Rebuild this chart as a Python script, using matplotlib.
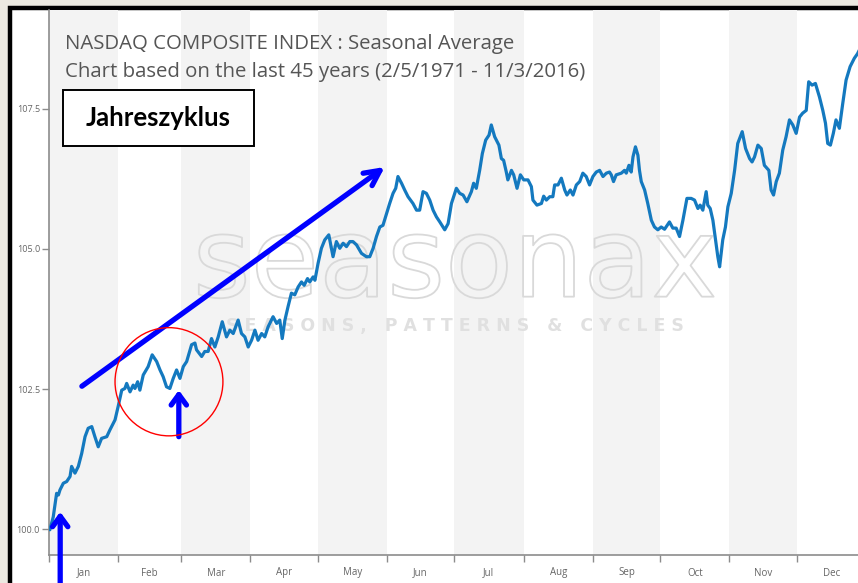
import matplotlib
matplotlib.use("Agg")
import matplotlib.pyplot as plt
import matplotlib.patheffects as pe
from matplotlib.patches import Rectangle, Ellipse

# seasonal average, day of year -> index (start = 100)
months = ["Jan", "Feb", "Mar", "Apr", "May", "Jun",
          "Jul", "Aug", "Sep", "Oct", "Nov", "Dec"]
month_start = [0, 31, 59, 90, 120, 151, 181, 212, 243, 273, 304, 334, 365]
yticks = [100.0, 102.5, 105.0, 107.5]

days = [0.0, 0.4, 1.9, 3.4, 4.2, 4.9, 6.4, 7.9, 9.4, 10.1, 11.6, 13.1, 14.6, 16.1, 17.5,
        19.1, 20.5, 22.0, 23.5, 25.8, 27.2, 29.5, 30.9, 32.5, 33.9, 34.7, 36.2, 37.6,
        38.4, 39.6, 40.6, 42.1, 44.3, 46.1, 48.1, 49.6, 51.0, 52.5, 54.0, 55.5, 57.0,
        58.5, 60.0, 61.5, 63.7, 65.2, 65.9, 68.2, 69.6, 71.1, 72.6, 74.1, 75.6, 77.4,
        79.3, 80.8, 82.3, 84.5, 86.0, 87.5, 89.0, 90.5, 92.0, 93.4, 95.0, 96.4, 97.9,
        100.1, 101.7, 103.1, 104.2, 105.4, 106.8, 108.3, 109.8, 111.3, 112.8, 114.0,
        115.5, 116.5, 118.0, 118.8, 120.2, 121.7, 123.2, 125.0, 126.9, 128.4, 129.9,
        131.4, 132.9, 134.4, 135.8, 137.4, 139.6, 141.8, 143.3, 144.8, 146.3, 147.8,
        149.2, 150.8, 152.2, 153.7, 154.9, 155.9, 157.5, 158.9, 160.4, 162.6, 164.2,
        165.6, 167.1, 168.6, 170.1, 171.6, 173.1, 174.6, 176.8, 178.3, 179.8, 182.0,
        183.5, 185.0, 186.7, 188.7, 189.7, 190.9, 192.4, 193.6, 195.1, 196.6, 197.6,
        199.1, 201.0, 202.1, 203.1, 204.3, 205.0, 206.6, 207.6, 209.1, 210.6, 212.1,
        214.0, 215.5, 216.2, 218.0, 220.0, 221.0, 222.2, 223.7, 225.1, 225.9, 227.4,
        228.9, 230.4, 231.4, 232.9, 234.1, 235.6, 237.1, 238.5, 240.0, 241.5, 243.0,
        244.5, 246.0, 247.5, 249.0, 250.4, 251.2, 252.2, 253.4, 255.7, 257.1, 257.9,
        259.1, 260.1, 260.9, 262.0, 263.1, 263.8, 264.6, 266.1, 267.5, 269.1, 270.5,
        272.0, 273.5, 275.0, 277.2, 278.7, 280.2, 281.7, 283.2, 285.0, 286.9, 288.4,
        289.9, 290.9, 292.1, 293.6, 294.3, 295.4, 296.6, 297.8, 298.8, 299.6, 301.0,
        302.2, 303.3, 304.8, 306.3, 307.7, 309.7, 311.2, 313.0, 314.1, 315.2, 316.7,
        318.2, 319.6, 321.6, 322.6, 323.7, 324.9, 326.3, 327.8, 329.3, 330.8, 332.3,
        333.8, 335.3, 336.7, 338.3, 339.4, 340.9, 342.4, 344.2, 345.7, 346.9, 347.9,
        349.1, 350.4, 351.6, 353.1, 354.6, 356.1, 357.9, 359.8, 361.2, 364.0]
values = [100.00, 99.99, 100.22, 100.64, 100.61, 100.70, 100.82, 100.85, 100.94, 101.12,
          101.00, 101.12, 101.35, 101.65, 101.80, 101.83, 101.65, 101.47, 101.62, 101.65,
          101.77, 101.95, 102.19, 102.48, 102.51, 102.60, 102.45, 102.57, 102.51, 102.63,
          102.48, 102.75, 102.90, 103.11, 102.99, 102.84, 102.72, 102.54, 102.51, 102.69,
          102.84, 102.69, 102.90, 102.99, 103.29, 103.32, 103.20, 103.08, 103.17, 103.17,
          103.40, 103.25, 103.43, 103.70, 103.43, 103.55, 103.49, 103.73, 103.49, 103.43,
          103.25, 103.37, 103.55, 103.37, 103.49, 103.43, 103.61, 103.79, 103.67, 103.73,
          103.40, 103.73, 103.97, 104.21, 104.18, 104.32, 104.41, 104.35, 104.47, 104.41,
          104.50, 104.44, 104.74, 105.01, 105.16, 105.25, 104.86, 105.13, 105.01, 105.10,
          105.04, 105.13, 105.13, 105.07, 104.92, 104.86, 104.86, 105.01, 105.22, 105.39,
          105.42, 105.63, 105.81, 105.99, 106.08, 106.29, 106.17, 106.05, 105.93, 105.81,
          105.69, 105.69, 106.02, 105.99, 105.87, 105.69, 105.57, 105.48, 105.34, 105.45,
          105.81, 106.08, 105.99, 105.96, 105.84, 106.02, 106.17, 106.08, 106.40, 106.70,
          106.94, 107.03, 107.21, 107.00, 106.85, 106.61, 106.58, 106.37, 106.23, 106.40,
          106.32, 106.08, 106.32, 106.23, 106.23, 106.11, 105.87, 105.78, 105.81, 105.94,
          105.87, 105.93, 105.93, 106.14, 106.14, 106.26, 106.05, 105.96, 106.05, 105.96,
          106.14, 106.20, 106.35, 106.29, 106.14, 106.29, 106.37, 106.40, 106.29, 106.35,
          106.37, 106.32, 106.20, 106.32, 106.35, 106.40, 106.35, 106.49, 106.37, 106.64,
          106.82, 106.67, 106.40, 106.20, 106.05, 105.81, 105.51, 105.39, 105.34, 105.39,
          105.35, 105.48, 105.37, 105.37, 105.22, 105.51, 105.90, 105.90, 105.87, 105.72,
          105.78, 105.69, 106.02, 105.78, 105.72, 105.51, 105.16, 104.86, 104.68, 105.16,
          105.39, 105.75, 105.99, 106.40, 106.88, 107.09, 106.79, 106.61, 106.55, 106.64,
          106.85, 106.79, 106.49, 106.40, 106.05, 105.96, 106.20, 106.35, 106.76, 107.00,
          107.30, 107.21, 107.06, 107.35, 107.42, 107.47, 107.98, 107.92, 107.95, 107.71,
          107.47, 107.24, 106.88, 106.85, 107.06, 107.30, 107.15, 107.59, 108.01, 108.25,
          108.40, 108.48, 108.70]

W, H = 858, 583
fig = plt.figure(figsize=(W / 100, H / 100), dpi=100, facecolor="#ece9e1")

# white sheet with the heavy black frame (only left/top edges visible)
fig.patches.append(Rectangle((10 / W, -0.2), 1.3, 1.2 - 7.5 / H,
                             transform=fig.transFigure, facecolor="white",
                             edgecolor="black", lw=3.2, zorder=-5))

ax = fig.add_axes([49 / W, 28 / H, 817 / W, 545 / H])
ax.set_facecolor("none")
ax.set_zorder(1)

for i in range(0, 12, 2):
    ax.axvspan(month_start[i], month_start[i + 1], color="#f3f3f3", lw=0, zorder=0)

# watermark
ax.text(0.497, 0.53, "seasonax", transform=ax.transAxes, ha="center", va="center",
        fontsize=80, family="DejaVu Sans", color=(1, 1, 1, 0), zorder=1,
        path_effects=[pe.Stroke(linewidth=1.3, foreground="#d9d9d9")])
ax.text(0.497, 0.42, "S E A S O N S ,   P A T T E R N S   &   C Y C L E S",
        transform=ax.transAxes, ha="center", va="center", fontsize=12.5,
        weight="bold", family="DejaVu Sans", color="#e0e0e0", zorder=1)

ax.plot(days, values, color="#1479bf", lw=2.3, zorder=3, solid_joinstyle="round")

ax.set_xlim(0, 365)
ax.set_ylim(99.54, 109.26)

for s in ("top", "right"):
    ax.spines[s].set_visible(False)
for s in ("left", "bottom"):
    ax.spines[s].set_color("#8c8c8c")
    ax.spines[s].set_linewidth(1.2)

ax.set_xticks(month_start)
ax.set_xticklabels([])
ax.set_xticks([(a + b) / 2 for a, b in zip(month_start[:-1], month_start[1:])], minor=True)
ax.set_xticklabels(months, minor=True)
ax.tick_params(axis="x", which="major", length=5, width=1, color="#8c8c8c")
ax.tick_params(axis="x", which="minor", length=0, pad=9, labelsize=7, labelcolor="#666666")
ax.set_yticks(yticks)
ax.set_yticklabels([f"{v:.1f}" for v in yticks])
ax.tick_params(axis="y", length=5, width=1, color="#8c8c8c", pad=1.5,
               labelsize=6.5, labelcolor="#666666")
for lab in ax.get_xticklabels(minor=True) + ax.get_yticklabels():
    lab.set_family("Open Sans")

fig.text(65 / W, 1 - 44 / H, "NASDAQ COMPOSITE INDEX : Seasonal Average",
         family="Open Sans", fontsize=14.7, color="#555555", va="center")
fig.text(65 / W, 1 - 72 / H, "Chart based on the last 45 years (2/5/1971 - 11/3/2016)",
         family="Open Sans", fontsize=14.7, color="#555555", va="center")

fig.patches.append(Rectangle((63 / W, 1 - 146 / H), 191 / W, 56 / H,
                             transform=fig.transFigure, facecolor="white",
                             edgecolor="black", lw=1.4, zorder=5))
fig.text(158 / W, 1 - 118 / H, "Jahreszyklus", family="Lato", weight="bold",
         fontsize=18.5, color="black", ha="center", va="center", zorder=6)

# annotations
blue = "#0000ff"
ax.annotate("", xy=(150.0, 106.46), xytext=(14.7, 102.55),
            arrowprops=dict(arrowstyle="->,head_length=1.1,head_width=0.55",
                            color=blue, lw=3.8, shrinkA=0, shrinkB=0), zorder=4)
ax.annotate("", xy=(5.0, 100.31), xytext=(5.0, 98.9), annotation_clip=False,
            arrowprops=dict(arrowstyle="->,head_length=0.75,head_width=0.55",
                            color=blue, lw=3.8, shrinkA=0, shrinkB=0), zorder=4)
ax.annotate("", xy=(58.0, 102.48), xytext=(58.0, 101.65),
            arrowprops=dict(arrowstyle="->,head_length=0.75,head_width=0.55",
                            color=blue, lw=3.8, shrinkA=0, shrinkB=0), zorder=4)
ax.add_patch(Ellipse((53.6, 102.63), 48.2, 1.93, facecolor="none",
                     edgecolor="#ff0000", lw=1.0, zorder=4))

fig.savefig("out.png", dpi=100, facecolor=fig.get_facecolor())
